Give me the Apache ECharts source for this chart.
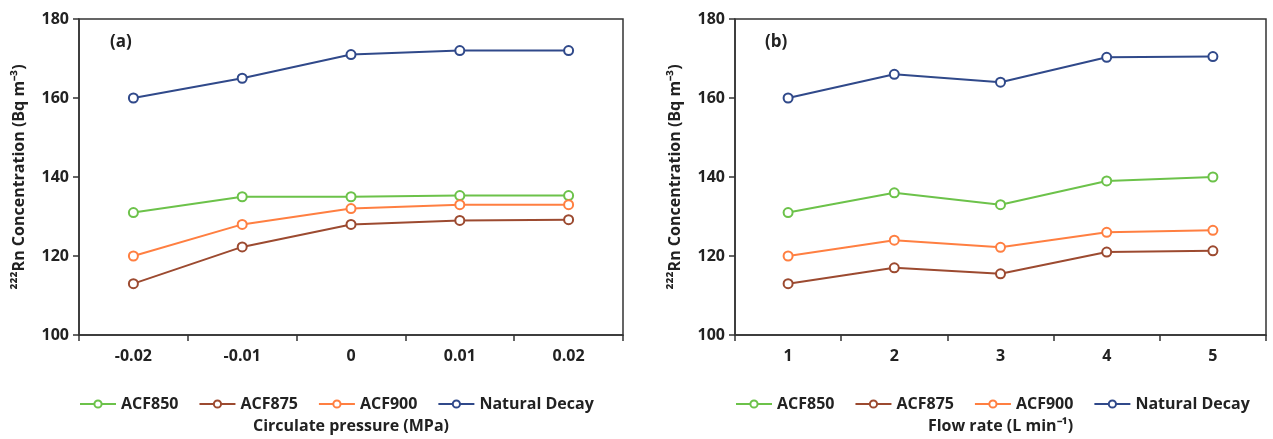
<!DOCTYPE html>
<html>
<head>
<meta charset="utf-8">
<script src="https://cdn.jsdelivr.net/npm/echarts@6/dist/echarts.min.js"></script>
<style>
html, body { margin: 0; padding: 0; background: #fff; }
#chart { width: 1273px; height: 439px; }
</style>
</head>
<body>
<div id="chart"></div>
<script>
var pressureCats = ['-0.02', '-0.01', '0', '0.01', '0.02'];
var flowCats = ['1', '2', '3', '4', '5'];
var seriesNames = ['ACF850', 'ACF875', 'ACF900', 'Natural Decay'];
var colors = ['#6cc24a', '#9c4a30', '#ff7f41', '#30498a'];

// (a) circulate pressure
var a_acf850 = [131, 135, 135, 135.3, 135.3];
var a_acf875 = [113, 122.3, 128, 129, 129.2];
var a_acf900 = [120, 128, 132, 133, 133];
var a_natural = [160, 165, 171, 172, 172];

// (b) flow rate
var b_acf850 = [131, 136, 133, 139, 140];
var b_acf875 = [113, 117, 115.5, 121, 121.3];
var b_acf900 = [120, 124, 122.2, 126, 126.5];
var b_natural = [160, 166, 164, 170.3, 170.5];

var yTicks = [100, 120, 140, 160, 180];

var font = 'Open Sans';
var dom = document.getElementById('chart');
var myChart = echarts.init(dom);

function xAxisFor(idx, cats, name) {
    return {
        type: 'category',
        gridIndex: idx,
        data: cats,
        boundaryGap: true,
        name: name,
        nameLocation: 'middle',
        nameGap: 83,
        nameTextStyle: { color: '#222', fontFamily: font, fontWeight: 'bold', fontSize: 16 },
        axisLine: { lineStyle: { color: '#333', width: 1.5 } },
        axisTick: { show: true, length: 6, lineStyle: { color: '#333', width: 1.5 } },
        axisLabel: { color: '#222', fontFamily: font, fontWeight: 'bold', fontSize: 16, margin: 13 }
    };
}

function yAxisFor(idx) {
    return {
        type: 'value',
        gridIndex: idx,
        min: yTicks[0],
        max: yTicks[yTicks.length - 1],
        interval: 20,
        name: '\u00b2\u00b2\u00b2Rn Concentration (Bq m\u207b\u00b3)',
        nameLocation: 'middle',
        nameGap: 52,
        nameTextStyle: { color: '#222', fontFamily: font, fontWeight: 'bold', fontSize: 16 },
        axisLine: { show: true, lineStyle: { color: '#333', width: 1.5 } },
        axisTick: { show: true, length: 6, lineStyle: { color: '#333', width: 1.5 } },
        splitLine: { show: false },
        axisLabel: { color: '#222', fontFamily: font, fontWeight: 'bold', fontSize: 16, margin: 10 }
    };
}

function lineSeries(name, data, idx, color) {
    return {
        name: name,
        type: 'line',
        xAxisIndex: idx,
        yAxisIndex: idx,
        data: data,
        symbol: 'emptyCircle',
        symbolSize: 9,
        color: color,
        lineStyle: { width: 2, color: color },
        itemStyle: { color: color, borderWidth: 2 }
    };
}

function legendFor(left) {
    return {
        data: seriesNames,
        left: left,
        top: 391,
        itemWidth: 36,
        itemHeight: 9,
        itemGap: 20,
        textStyle: { color: '#222', fontFamily: font, fontWeight: 'bold', fontSize: 16 }
    };
}

var option = {
    animation: false,
    color: colors,
    title: [
        { text: '(a)', left: 105, top: 29, textStyle: { fontFamily: font, fontWeight: 'bold', fontSize: 17, color: '#222' } },
        { text: '(b)', left: 760, top: 29, textStyle: { fontFamily: font, fontWeight: 'bold', fontSize: 17, color: '#222' } }
    ],
    legend: [legendFor(74), legendFor(730)],
    grid: [
        { left: 79, top: 19, width: 544, height: 317, show: true, borderColor: '#333', borderWidth: 1.5, backgroundColor: 'transparent' },
        { left: 735, top: 19, width: 531, height: 317, show: true, borderColor: '#333', borderWidth: 1.5, backgroundColor: 'transparent' }
    ],
    xAxis: [
        xAxisFor(0, pressureCats, 'Circulate pressure (MPa)'),
        xAxisFor(1, flowCats, 'Flow rate (L min\u207b\u00b9)')
    ],
    yAxis: [yAxisFor(0), yAxisFor(1)],
    series: [
        lineSeries('ACF850', a_acf850, 0, colors[0]),
        lineSeries('ACF875', a_acf875, 0, colors[1]),
        lineSeries('ACF900', a_acf900, 0, colors[2]),
        lineSeries('Natural Decay', a_natural, 0, colors[3]),
        lineSeries('ACF850', b_acf850, 1, colors[0]),
        lineSeries('ACF875', b_acf875, 1, colors[1]),
        lineSeries('ACF900', b_acf900, 1, colors[2]),
        lineSeries('Natural Decay', b_natural, 1, colors[3])
    ]
};
myChart.setOption(option, true);
</script>
</body>
</html>
